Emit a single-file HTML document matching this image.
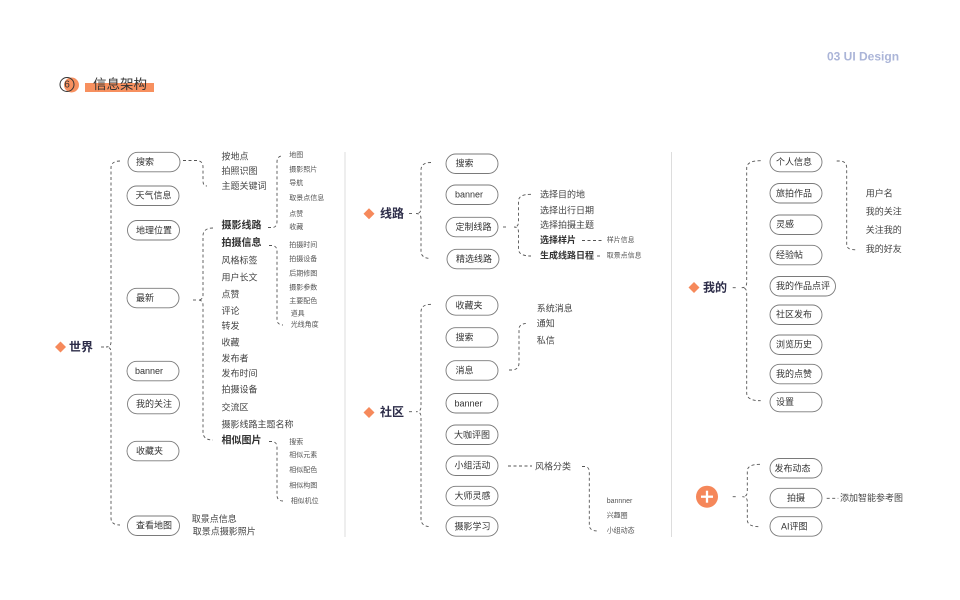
<!DOCTYPE html>
<html><head><meta charset="utf-8"><style>
html,body{margin:0;padding:0;background:#fff;}
svg{display:block;}
text{font-family:"Liberation Sans","Noto Sans CJK SC",sans-serif;dominant-baseline:central;}
.p{fill:#fff;stroke:#7a7a7a;stroke-width:0.9;}
.pt{font-size:9px;fill:#333;}
.t{font-size:9px;fill:#444;}
.tb{font-size:10px;fill:#333;font-weight:bold;}
.tb9{font-size:9px;fill:#333;font-weight:bold;}
.s{font-size:7px;fill:#555;}
.d{fill:none;stroke:#555;stroke-width:0.9;stroke-dasharray:3 2.5;}
.h{font-size:12px;font-weight:bold;fill:#2c2c48;}
.dm{fill:#f6895b;}
</style></head><body>
<svg width="960" height="600" viewBox="0 0 960 600" xmlns="http://www.w3.org/2000/svg">
<!-- header -->
<text x="827" y="56.5" style="font-size:12px;font-weight:bold;fill:#abb5d8;">03 UI Design</text>
<circle cx="71.5" cy="85" r="7.5" fill="#f7905f"/>
<circle cx="67" cy="84.5" r="7" fill="none" stroke="#333" stroke-width="1"/>
<text x="67" y="85" text-anchor="middle" style="font-size:10px;fill:#333;">6</text>
<rect x="85" y="83" width="69" height="9" fill="#f7905f"/>
<text x="93" y="84.5" style="font-size:13.5px;fill:#333;">信息架构</text>

<!-- dividers -->
<line x1="345" y1="152" x2="345" y2="537" stroke="#ddd" stroke-width="1"/>
<line x1="671.5" y1="152" x2="671.5" y2="537" stroke="#ddd" stroke-width="1"/>

<!-- ===== 世界 ===== -->
<polygon class="dm" points="60.5,341.5 66,347 60.5,352.5 55,347"/>
<text class="h" x="69" y="347">世界</text>
<path class="d" d="M101,347 L104,347"/>
<path class="d" d="M120,161 Q111,161 111,168 L111,342 Q111,347 106,347 Q111,347 111,352 L111,518 Q111,525 120,525"/>

<rect class="p" x="128" y="152.3" width="52" height="19.5" rx="9.75"/><text class="pt" x="136" y="162">搜索</text>
<rect class="p" x="127" y="186" width="52" height="19.5" rx="9.75"/><text class="pt" x="135.5" y="195.7">天气信息</text>
<rect class="p" x="127.5" y="220.5" width="52" height="19.5" rx="9.75"/><text class="pt" x="136" y="230.3">地理位置</text>
<rect class="p" x="127" y="288.3" width="52" height="19.5" rx="9.75"/><text class="pt" x="136" y="298">最新</text>
<rect class="p" x="127" y="361.3" width="52" height="19.5" rx="9.75"/><text class="pt" x="135" y="371">banner</text>
<rect class="p" x="127.5" y="394.3" width="52" height="19.5" rx="9.75"/><text class="pt" x="136" y="404">我的关注</text>
<rect class="p" x="127" y="441.3" width="52" height="19.5" rx="9.75"/><text class="pt" x="136" y="451">收藏夹</text>
<rect class="p" x="127.5" y="516" width="52" height="19.5" rx="9.75"/><text class="pt" x="136" y="525.7">查看地图</text>

<!-- 搜索 -> list -->
<path class="d" d="M183,160.5 L197,160.5 Q203,161 203,167 L203,181 Q203,186 207,186"/>
<text class="t" x="221.5" y="156.5">按地点</text>
<text class="t" x="221.5" y="171">拍照识图</text>
<text class="t" x="221.5" y="186">主题关键词</text>

<!-- 最新 bracket -->
<path class="d" d="M193,300 L196,300"/>
<path class="d" d="M213,228 Q203,228 203,236 L203,295 Q203,300 198,300 Q203,300 203,305 L203,432 Q203,440 213,440"/>
<text class="tb" x="221.5" y="226">摄影线路</text>
<text class="tb" x="221.5" y="243.3">拍摄信息</text>
<text class="t" x="221.5" y="260.7">风格标签</text>
<text class="t" x="221.5" y="277.3">用户长文</text>
<text class="t" x="221.5" y="294.3">点赞</text>
<text class="t" x="221.5" y="311">评论</text>
<text class="t" x="221.5" y="326">转发</text>
<text class="t" x="221.5" y="342.5">收藏</text>
<text class="t" x="221.5" y="358.7">发布者</text>
<text class="t" x="221.5" y="373.3">发布时间</text>
<text class="t" x="221.5" y="389.3">拍摄设备</text>
<text class="t" x="221.5" y="407.3">交流区</text>
<text class="t" x="221.5" y="424.3">摄影线路主题名称</text>
<text class="tb" x="221.5" y="441">相似图片</text>

<!-- 摄影线路 sub -->
<path class="d" d="M268,227.5 L273,227.5 Q277,227 277,221 L277,162 Q277,157 281,156"/>
<text class="s" x="289.3" y="155.7">地图</text>
<text class="s" x="289.3" y="170">摄影照片</text>
<text class="s" x="289.3" y="183.3">导航</text>
<text class="s" x="289.3" y="198.7">取景点信息</text>
<text class="s" x="289.3" y="214.7">点赞</text>
<text class="s" x="289.3" y="227.7">收藏</text>

<!-- 拍摄信息 sub -->
<path class="d" d="M269,245.5 L272,245.5 Q277,246 277,251 L277,319 Q277,325 283,325"/>
<text class="s" x="289.3" y="245.7">拍摄时间</text>
<text class="s" x="289.3" y="259.3">拍摄设备</text>
<text class="s" x="289.3" y="274">后期修图</text>
<text class="s" x="289.3" y="288">摄影参数</text>
<text class="s" x="289.3" y="301.7">主要配色</text>
<text class="s" x="290.7" y="314">道具</text>
<text class="s" x="290.7" y="325">光线角度</text>

<!-- 相似图片 sub -->
<path class="d" d="M269,441.5 L272,441.5 Q277,442 277,447 L277,495 Q277,501 283,501"/>
<text class="s" x="289.3" y="442.3">搜索</text>
<text class="s" x="289.3" y="455.7">相似元素</text>
<text class="s" x="289.3" y="470.7">相似配色</text>
<text class="s" x="289.3" y="486">相似构图</text>
<text class="s" x="290.7" y="501.7">相似机位</text>

<text class="t" x="191.7" y="519">取景点信息</text>
<text class="t" x="192.7" y="531.3">取景点摄影照片</text>

<!-- ===== 线路 ===== -->
<polygon class="dm" points="369,208.2 374.5,213.7 369,219.2 363.5,213.7"/>
<text class="h" x="380" y="213.5">线路</text>
<path class="d" d="M409,213.5 L412,213.5"/>
<path class="d" d="M431,162.5 Q421,162.5 421,170 L421,208.5 Q421,213.5 416,213.5 Q421,213.5 421,218.5 L421,251 Q421,258.5 431,258.5"/>

<rect class="p" x="446" y="154" width="52" height="19.5" rx="9.75"/><text class="pt" x="455.5" y="163.7">搜索</text>
<rect class="p" x="446" y="185" width="52" height="19.5" rx="9.75"/><text class="pt" x="455" y="194.7">banner</text>
<rect class="p" x="446" y="217.3" width="52" height="19.5" rx="9.75"/><text class="pt" x="455.5" y="227">定制线路</text>
<rect class="p" x="447" y="249.3" width="52" height="19.5" rx="9.75"/><text class="pt" x="456" y="258.8">精选线路</text>

<path class="d" d="M503,227 L507,227"/>
<path class="d" d="M531,194.3 Q518.5,194.3 518.5,201 L518.5,222 Q518.5,227 514,227 Q518.5,227 518.5,232 L518.5,249 Q518.5,256 531,256"/>
<text class="t" x="540" y="194.3">选择目的地</text>
<text class="t" x="540" y="210.7">选择出行日期</text>
<text class="t" x="540" y="225">选择拍摄主题</text>
<text class="tb9" x="540" y="240">选择样片</text>
<text class="tb9" x="540" y="255.7">生成线路日程</text>
<path class="d" d="M582,240.5 L604,240.5"/>
<text class="s" x="606.7" y="240.5">样片信息</text>
<path class="d" d="M597,256 L602,256"/>
<text class="s" x="606.7" y="256">取景点信息</text>

<!-- ===== 社区 ===== -->
<polygon class="dm" points="369,407 374.5,412.5 369,418 363.5,412.5"/>
<text class="h" x="380" y="412">社区</text>
<path class="d" d="M409,411.7 L412,411.7"/>
<path class="d" d="M431,304.3 Q421,304.3 421,312 L421,406.7 Q421,411.7 416,411.7 Q421,411.7 421,416.7 L421,519 Q421,526.7 431,526.7"/>

<rect class="p" x="446" y="295.7" width="52" height="19.5" rx="9.75"/><text class="pt" x="455.5" y="305.3">收藏夹</text>
<rect class="p" x="446" y="327.7" width="52" height="19.5" rx="9.75"/><text class="pt" x="455.5" y="337.5">搜索</text>
<rect class="p" x="446" y="360.7" width="52" height="19.5" rx="9.75"/><text class="pt" x="455.5" y="370.3">消息</text>
<rect class="p" x="446" y="393.5" width="52" height="19.5" rx="9.75"/><text class="pt" x="454.5" y="403.3">banner</text>
<rect class="p" x="446" y="425" width="52" height="19.5" rx="9.75"/><text class="pt" x="454" y="435">大咖评图</text>
<rect class="p" x="446" y="456" width="52" height="19.5" rx="9.75"/><text class="pt" x="454.5" y="465.7">小组活动</text>
<rect class="p" x="446" y="486.3" width="52" height="19.5" rx="9.75"/><text class="pt" x="454.5" y="496">大师灵感</text>
<rect class="p" x="446" y="516.7" width="52" height="19.5" rx="9.75"/><text class="pt" x="454.5" y="526.3">摄影学习</text>

<path class="d" d="M509,370 L513,370 Q519,369 519,363 L519,329 Q519,323.5 528,323.3"/>
<text class="t" x="536.7" y="308.3">系统消息</text>
<text class="t" x="536.7" y="323.3">通知</text>
<text class="t" x="536.7" y="340.7">私信</text>

<path class="d" d="M508,466 L532,466"/>
<text class="t" x="535" y="466.5">风格分类</text>
<path class="d" d="M582,466.5 L585,466.5 Q589.3,467 589.3,472 L589.3,525 Q589.3,531 598,531"/>
<text class="s" x="606.7" y="501.7">bannner</text>
<text class="s" x="606.7" y="516">兴趣圈</text>
<text class="s" x="606.7" y="531">小组动态</text>

<!-- ===== 我的 ===== -->
<polygon class="dm" points="694,282 699.5,287.5 694,293 688.5,287.5"/>
<text class="h" x="703" y="287.5">我的</text>
<path class="d" d="M732.7,287.7 L736,287.7"/>
<path class="d" d="M760.7,160.7 Q746.7,160.7 746.7,168 L746.7,282.7 Q746.7,287.7 741.7,287.7 Q746.7,287.7 746.7,292.7 L746.7,393 Q746.7,400.7 760.7,400.7"/>

<rect class="p" x="770" y="152.3" width="52" height="19.5" rx="9.75"/><text class="pt" x="776" y="162">个人信息</text>
<rect class="p" x="770" y="183.5" width="52" height="19.5" rx="9.75"/><text class="pt" x="776" y="193.3">旅拍作品</text>
<rect class="p" x="770" y="215" width="52" height="19.5" rx="9.75"/><text class="pt" x="776" y="224.7">灵感</text>
<rect class="p" x="770" y="245.3" width="52" height="19.5" rx="9.75"/><text class="pt" x="776" y="255">经验帖</text>
<rect class="p" x="770" y="276.5" width="65.5" height="19.5" rx="9.75"/><text class="pt" x="776" y="286.2">我的作品点评</text>
<rect class="p" x="770" y="305" width="52" height="19.5" rx="9.75"/><text class="pt" x="776" y="314.7">社区发布</text>
<rect class="p" x="770" y="335" width="52" height="19.5" rx="9.75"/><text class="pt" x="776" y="344.7">浏览历史</text>
<rect class="p" x="770" y="364.3" width="52" height="19.5" rx="9.75"/><text class="pt" x="776" y="374">我的点赞</text>
<rect class="p" x="770" y="392.3" width="52" height="19.5" rx="9.75"/><text class="pt" x="776" y="402">设置</text>

<path class="d" d="M836.7,161 L841,161 Q846.7,162 846.7,168 L846.7,244 Q846.7,249 852,249.5 L857,250"/>
<text class="t" x="865.7" y="193.3">用户名</text>
<text class="t" x="865.7" y="211.7">我的关注</text>
<text class="t" x="865.7" y="230">关注我的</text>
<text class="t" x="865.7" y="249">我的好友</text>

<!-- ===== + ===== -->
<circle cx="707" cy="496.7" r="11" fill="#f5875a"/>
<line x1="701" y1="496.7" x2="713" y2="496.7" stroke="#fff" stroke-width="2.3"/>
<line x1="707" y1="490.7" x2="707" y2="502.7" stroke="#fff" stroke-width="2.3"/>
<path class="d" d="M732.7,496.7 L736,496.7"/>
<path class="d" d="M760,464.3 Q747.3,464.3 747.3,471 L747.3,491.7 Q747.3,496.7 742.3,496.7 Q747.3,496.7 747.3,501.7 L747.3,520 Q747.3,526.7 760,526.7"/>

<rect class="p" x="770" y="458.5" width="52" height="19.5" rx="9.75"/><text class="pt" x="774.5" y="468.3">发布动态</text>
<rect class="p" x="770" y="488.3" width="52" height="19.5" rx="9.75"/><text class="pt" x="787" y="497.8">拍摄</text>
<rect class="p" x="770" y="516.7" width="52" height="19.5" rx="9.75"/><text class="pt" x="781" y="526.3">AI评图</text>

<path class="d" d="M826.7,498.3 L838.3,498.3"/>
<text class="t" x="840" y="498">添加智能参考图</text>
</svg>
</body></html>
